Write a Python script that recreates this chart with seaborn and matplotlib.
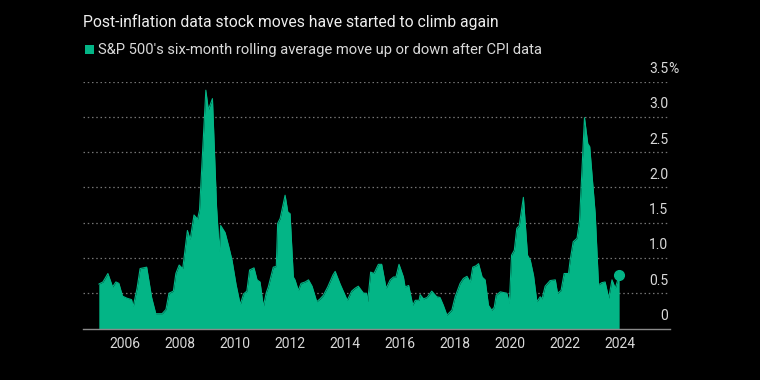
import matplotlib
matplotlib.use("Agg")
import matplotlib.pyplot as plt
import matplotlib.transforms as mtransforms
import pandas as pd
import seaborn as sns

# dates as decimal years, values in percent
years = [
    2005.05, 2005.20, 2005.38, 2005.55, 2005.67, 2005.78, 2005.91, 2006.07, 2006.24, 2006.30,
    2006.44, 2006.55, 2006.79, 2006.97, 2007.12, 2007.35, 2007.49, 2007.60, 2007.76, 2007.85,
    2007.97, 2008.10, 2008.27, 2008.37, 2008.51, 2008.64, 2008.71, 2008.94, 2009.03, 2009.18,
    2009.33, 2009.43, 2009.48, 2009.64, 2009.78, 2009.89, 2010.04, 2010.19, 2010.31, 2010.43,
    2010.53, 2010.69, 2010.80, 2010.91, 2011.03, 2011.13, 2011.21, 2011.39, 2011.50, 2011.55,
    2011.64, 2011.82, 2011.92, 2012.00, 2012.12, 2012.18, 2012.30, 2012.40, 2012.55, 2012.67,
    2012.80, 2012.97, 2013.09, 2013.21, 2013.37, 2013.56, 2013.64, 2013.82, 2014.08, 2014.24,
    2014.36, 2014.48, 2014.67, 2014.78, 2014.82, 2014.93, 2015.05, 2015.21, 2015.33, 2015.49,
    2015.64, 2015.76, 2015.85, 2015.96, 2016.12, 2016.18, 2016.31, 2016.46, 2016.55, 2016.69,
    2016.73, 2016.85, 2016.98, 2017.15, 2017.33, 2017.45, 2017.57, 2017.70, 2017.88, 2018.00,
    2018.18, 2018.30, 2018.43, 2018.55, 2018.64, 2018.76, 2018.85, 2018.98, 2019.09, 2019.21,
    2019.33, 2019.42, 2019.49, 2019.64, 2019.88, 2019.97, 2020.05, 2020.15, 2020.24, 2020.33,
    2020.48, 2020.63, 2020.73, 2020.85, 2020.97, 2021.09, 2021.16, 2021.27, 2021.45, 2021.64,
    2021.72, 2021.85, 2021.96, 2022.12, 2022.18, 2022.29, 2022.43, 2022.52, 2022.70, 2022.82,
    2022.89, 2023.09, 2023.21, 2023.33, 2023.45, 2023.58, 2023.70, 2023.82, 2023.96,
]
moves = [
    0.63, 0.66, 0.78, 0.59, 0.66, 0.64, 0.46, 0.43, 0.41, 0.31,
    0.57, 0.85, 0.87, 0.44, 0.21, 0.21, 0.27, 0.50, 0.53, 0.78,
    0.90, 0.85, 1.39, 1.26, 1.61, 1.55, 1.68, 3.38, 3.10, 3.26,
    1.72, 1.10, 1.46, 1.36, 1.15, 0.97, 0.62, 0.34, 0.49, 0.53,
    0.83, 0.86, 0.69, 0.66, 0.31, 0.50, 0.59, 0.87, 0.88, 1.49,
    1.56, 1.89, 1.65, 1.63, 0.73, 0.69, 0.54, 0.64, 0.66, 0.69,
    0.60, 0.38, 0.42, 0.47, 0.59, 0.76, 0.81, 0.63, 0.40, 0.53,
    0.57, 0.60, 0.50, 0.50, 0.38, 0.80, 0.78, 0.91, 0.91, 0.57,
    0.69, 0.73, 0.73, 0.91, 0.73, 0.59, 0.61, 0.33, 0.40, 0.40,
    0.48, 0.42, 0.44, 0.53, 0.45, 0.44, 0.33, 0.19, 0.26, 0.45,
    0.64, 0.71, 0.74, 0.66, 0.87, 0.89, 0.92, 0.73, 0.69, 0.33,
    0.26, 0.30, 0.47, 0.52, 0.50, 0.36, 1.04, 1.11, 1.42, 1.46,
    1.86, 1.04, 0.97, 0.75, 0.38, 0.45, 0.42, 0.60, 0.68, 0.69,
    0.50, 0.54, 0.78, 0.78, 0.97, 1.23, 1.28, 1.53, 2.99, 2.62,
    2.58, 1.63, 0.62, 0.65, 0.66, 0.43, 0.69, 0.57, 0.76,
]
xtick_years = [2006, 2008, 2010, 2012, 2014, 2016, 2018, 2020, 2022, 2024]
ytick_values = [0, 0.5, 1.0, 1.5, 2.0, 2.5, 3.0, 3.5]
ytick_labels = ["0", "0.5", "1.0", "1.5", "2.0", "2.5", "3.0", "3.5"]

df = pd.DataFrame({"year": years, "move": moves})

green = "#03b586"
text_color = "#d9d9d9"
grid_color = "#757575"

sns.set_theme(style="dark")
plt.rcParams["font.family"] = ["Roboto", "DejaVu Sans"]

fig = plt.figure(figsize=(7.6, 3.8), dpi=100, facecolor="black")
ax = fig.add_axes([0.109, 0.1355, 0.773, 0.6495])
ax.set_facecolor("black")

sns.lineplot(data=df, x="year", y="move", ax=ax, color=green, linewidth=0.8)
ax.fill_between(df["year"], df["move"], 0, color=green, linewidth=0, zorder=2)
ax.plot(df["year"].iloc[-1], df["move"].iloc[-1], "o", color=green, markersize=7, zorder=4)

ax.set_xlim(2004.47, 2025.82)
ax.set_ylim(0, 3.5)

# dotted gridlines and right side labels sitting above them
for v, lab in zip(ytick_values, ytick_labels):
    if v > 0:
        ax.axhline(v, color=grid_color, linestyle=(0, (1.2, 2.2)), linewidth=0.9, zorder=1)
    trans = mtransforms.blended_transform_factory(ax.transAxes, ax.transData)
    offset = mtransforms.offset_copy(trans, fig=fig, y=4, units="points")
    ax.text(0.9966, v, lab, transform=offset, ha="right", va="bottom",
            color=text_color, fontsize=10)
    if lab == "3.5":
        ax.text(0.9966, v, "%", transform=offset, ha="left", va="bottom",
                color=text_color, fontsize=10)

ax.set_yticks([])
ax.set_xticks(xtick_years)
ax.set_xticklabels([str(y) for y in xtick_years], color=text_color, fontsize=10)
ax.tick_params(axis="x", colors=grid_color, length=4, width=0.8, pad=2, labelcolor=text_color)
ax.set_xlabel("")
ax.set_ylabel("")

for side in ["top", "right", "left"]:
    ax.spines[side].set_visible(False)
ax.spines["bottom"].set_color("#8a8a8a")
ax.spines["bottom"].set_linewidth(1.0)
ax.spines["bottom"].set_zorder(5)

fig.text(0.109, 0.942, "Post-inflation data stock moves have started to climb again",
         color="#eeeeee", fontsize=11.3, ha="left", va="center")
fig.patches.append(plt.Rectangle((0.1118, 0.857), 0.0118, 0.0237, transform=fig.transFigure,
                                 facecolor=green, edgecolor="none"))
fig.text(0.1295, 0.868, "S&P 500's six-month rolling average move up or down after CPI data",
         color=text_color, fontsize=10.6, ha="left", va="center")

fig.savefig("out.png", dpi=100, facecolor="black")
